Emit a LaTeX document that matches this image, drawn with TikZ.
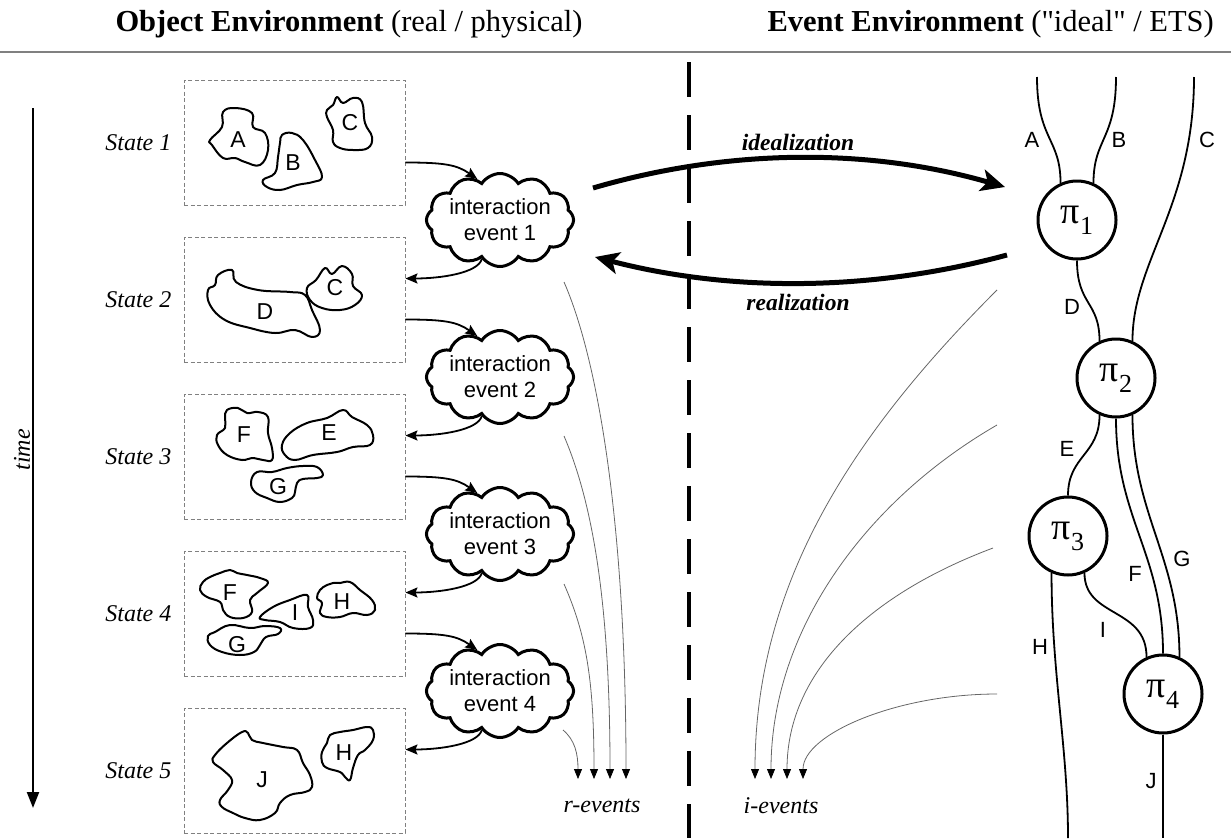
\documentclass[tikz,border=0pt]{standalone}
\usepackage{fontspec}
\setmainfont{Liberation Serif}
\newfontfamily\arialfont{Liberation Sans}
\usetikzlibrary{shapes.symbols,arrows.meta}

% pi with a lowered index, as used inside the interaction circles
\newcommand\pisym[1]{{\fontsize{38}{38}\selectfont π}\raisebox{-11pt}{\fontsize{26}{26}\selectfont #1}}

\tikzset{
  statebox/.style={draw=black!50, dash pattern=on 4pt off 2.5pt, line width=0.9pt,
    minimum width=221pt, minimum height=125pt, inner sep=0pt},
  statelabel/.style={anchor=east, font=\fontsize{24}{24}\selectfont\itshape, inner sep=0pt},
  blob/.style={line width=2pt, line join=round},
  bloblabel/.style={font=\arialfont\fontsize{23}{23}\selectfont, inner sep=0pt},
  evcloud/.style={cloud, draw, line width=3pt, cloud puffs=12, cloud puff arc=115,
    cloud ignores aspect, minimum width=120pt, minimum height=93pt, inner sep=0pt,
    align=center, font=\arialfont\fontsize{22}{26}\selectfont},
  flow/.style={line width=1.8pt, -{Stealth[length=12pt,width=10pt,inset=2pt]}},
  eventline/.style={draw=black!60, line width=0.8pt, -{Triangle[length=10pt,width=8pt,black]}},
  bigarrow/.style={line width=5pt, -{Stealth[length=24pt,width=22pt,inset=6pt]}},
  pinode/.style={circle, draw, line width=3pt, minimum size=78pt, inner sep=0pt},
  strand/.style={line width=1.8pt},
  strandlabel/.style={font=\arialfont\fontsize{22}{22}\selectfont, inner sep=0pt},
  italabel/.style={font=\fontsize{24}{24}\selectfont\itshape, inner sep=0pt},
  bolditalabel/.style={font=\fontsize{23.5}{23.5}\selectfont\bfseries\itshape, inner sep=0pt},
  heading/.style={font=\fontsize{30.5}{30.5}\selectfont, inner sep=0pt},
}

\begin{document}
\begin{tikzpicture}[x=1pt,y=-1pt]
\useasboundingbox (0,0) rectangle (1231,838);

% ---------- headings ----------
\node[heading, anchor=base] (ttl-obj) at (349,31) {\textbf{Object Environment} (real / physical)};
\node[heading, anchor=base east] (ttl-ev) at (1214,31) {\textbf{Event Environment} (\textquotedbl ideal\textquotedbl\ / ETS)};
\draw[black!50, line width=1.3pt] (0,52) -- (1231,52);

% ---------- time axis ----------
\coordinate (t-top) at (33,108);
\coordinate (t-bot) at (33,808);
\draw[line width=2.2pt, -{Triangle[length=16pt,width=12pt]}] (t-top) -- (t-bot);
\node[italabel, rotate=90] (time) at (22,450) {time};

% ---------- divider ----------
\draw[line width=3.5pt, dash pattern=on 35pt off 18pt] (689,62) -- (689,838);

% ---------- states ----------
\foreach \i/\y in {1/142.5, 2/299.5, 3/456.5, 4/613.5, 5/770.5} {
  \node[statebox] (s\i) at (294.5,\y) {};
  \node[statelabel] (sl\i) at ([xshift=-12pt]s\i.west) {State \i};
}

% State 1
\draw[blob] plot[smooth cycle, tension=0.7] coordinates {(223,112) (235,108) (252,113) (253,127) (265,133) (268,150) (260,165) (245,162) (235,158) (223,158) (212,145) (210,140) (222,127)};
\node[bloblabel] (o1a) at (238,140) {A};
\draw[blob] plot[smooth cycle, tension=0.7] coordinates {(282,135) (292,133) (303,140) (315,160) (322,177) (313,182) (297,185) (280,190) (267,187) (263,180) (275,173) (278,157) (280,143)};
\node[bloblabel] (o1b) at (293,163) {B};
\draw[blob] plot[smooth cycle, tension=0.7] coordinates {(337,97) (343,103) (353,98) (362,102) (365,123) (372,137) (368,148) (353,150) (340,148) (333,142) (333,130) (327,117) (327,110) (333,105)};
\node[bloblabel] (o1c) at (350,123) {C};

% State 2
\draw[blob] plot[smooth cycle, tension=0.7] coordinates {(218,275) (232,270) (236,282) (258,290) (290,292) (305,295) (312,310) (320,330) (312,337) (295,330) (275,333) (250,328) (225,320) (210,305) (208,290) (215,285)};
\node[bloblabel] (o2d) at (265,312) {D};
\draw[blob] plot[smooth cycle, tension=0.7] coordinates {(325,268) (332,274) (342,266) (352,274) (353,286) (362,295) (355,305) (340,310) (322,308) (310,300) (307,288) (316,280)};
\node[bloblabel] (o2c) at (335,288) {C};

% State 3
\draw[blob] plot[smooth cycle, tension=0.7] coordinates {(227,410) (238,408) (247,413) (258,412) (268,417) (268,433) (272,448) (272,460) (263,460) (252,458) (242,460) (227,455) (218,445) (217,435) (225,428) (225,418)};
\node[bloblabel] (o3f) at (244,435) {F};
\draw[blob] plot[smooth cycle, tension=0.7] coordinates {(290,433) (307,423) (327,418) (343,410) (352,417) (367,425) (373,435) (370,445) (353,447) (337,452) (313,455) (295,460) (285,455) (282,445)};
\node[bloblabel] (o3e) at (329,433) {E};
\draw[blob] plot[smooth cycle, tension=0.7] coordinates {(257,472) (272,472) (287,468) (303,466) (317,467) (323,475) (317,478) (303,479) (297,483) (295,492) (292,498) (280,502) (267,498) (255,492) (251,482)};
\node[bloblabel] (o3g) at (278,487) {G};

% State 4
\draw[blob] plot[smooth cycle, tension=0.7] coordinates {(210,577) (220,573) (230,570) (237,573) (247,575) (260,578) (268,583) (257,593) (250,600) (252,612) (243,618) (230,617) (223,610) (220,602) (207,597) (200,590) (203,582)};
\node[bloblabel] (o4f) at (230,593) {F};
\draw[blob] plot[smooth cycle, tension=0.7] coordinates {(260,617) (273,607) (290,600) (307,595) (308,607) (313,620) (310,628) (293,628) (280,622) (265,620)};
\node[bloblabel] (o4i) at (295,613) {I};
\draw[blob] plot[smooth cycle, tension=0.7] coordinates {(327,585) (333,583) (340,583) (350,582) (360,590) (372,600) (375,610) (367,615) (353,613) (340,617) (327,617) (320,613) (322,603) (317,598) (320,590)};
\node[bloblabel] (o4h) at (342,602) {H};
\draw[blob] plot[smooth cycle, tension=0.7] coordinates {(215,632) (230,625) (250,628) (265,626) (280,628) (278,634) (266,637) (260,645) (254,652) (240,655) (222,652) (210,645) (208,636)};
\node[bloblabel] (o4g) at (237,645) {G};

% State 5
\draw[blob] plot[smooth cycle, tension=0.7] coordinates {(215,755) (227,743) (242,732) (248,733) (252,740) (263,743) (283,747) (297,750) (303,763) (310,775) (312,787) (305,792) (290,795) (280,803) (275,813) (260,820) (245,818) (233,813) (222,807) (220,800) (228,790) (232,780) (223,770) (213,762)};
\node[bloblabel] (o5j) at (262,780) {J};
\draw[blob] plot[smooth cycle, tension=0.7] coordinates {(330,735) (340,732) (353,730) (367,727) (373,730) (373,740) (365,750) (358,755) (353,768) (350,780) (345,777) (340,772) (327,768) (322,762) (322,752) (327,743)};
\node[bloblabel] (o5h) at (344,753) {H};

% ---------- interaction events ----------
\foreach \i/\y in {1/220, 2/377, 3/534, 4/691} {
  \node[evcloud] (c\i) at (500,\y) {interaction\\event \i};
}
\foreach \i [evaluate=\i as \j using int(\i+1)] in {1,2,3,4} {
  \draw[flow] ([yshift=-20pt]s\i.east) .. controls +(40,0) and +(-20,-14) .. (c\i.119);
  \draw[flow] (c\i.245) .. controls +(-4,14) and +(35,0) .. ([yshift=21pt]s\j.east);
}

% ---------- r-events ----------
\coordinate (rs1) at (564,282); \coordinate (rs2) at (564,436);
\coordinate (rs3) at (564,584); \coordinate (rs4) at (563,730);
\coordinate (rh1) at (578,779); \coordinate (rh2) at (594,779);
\coordinate (rh3) at (610,779); \coordinate (rh4) at (626,779);
\draw[eventline] (rs1) .. controls +(35,80) and +(0,-250) .. (rh4);
\draw[eventline] (rs2) .. controls +(30,70) and +(0,-170) .. (rh3);
\draw[eventline] (rs3) .. controls +(22,50) and +(0,-100) .. (rh2);
\draw[eventline] (rs4) .. controls +(12,10) and +(0,-25) .. (rh1);
\node[italabel] (revents) at (602,806) {r-events};

% ---------- i-events ----------
\coordinate (is1) at (997,290); \coordinate (is2) at (997,425);
\coordinate (is3) at (993,548); \coordinate (is4) at (997,694);
\coordinate (ih1) at (755,779); \coordinate (ih2) at (771,779);
\coordinate (ih3) at (787,779); \coordinate (ih4) at (803,779);
\draw[eventline] (is1) .. controls +(-140,140) and +(0,-200) .. (ih1);
\draw[eventline] (is2) .. controls +(-130,75) and +(0,-150) .. (ih2);
\draw[eventline] (is3) .. controls +(-120,45) and +(0,-110) .. (ih3);
\draw[eventline] (is4) .. controls +(-100,0) and +(0,-45) .. (ih4);
\node[italabel] (ievents) at (781,806) {i-events};

% ---------- idealization / realization ----------
\coordinate (id-s) at (593,188); \coordinate (id-e) at (1005,187);
\coordinate (re-s) at (1007,255); \coordinate (re-e) at (595,257);
\draw[bigarrow] (id-s) .. controls (730,148) and (870,148) .. (id-e);
\draw[bigarrow] (re-s) .. controls (870,292) and (730,292) .. (re-e);
\node[bolditalabel] (ideal) at (798,142) {idealization};
\node[bolditalabel] (real) at (798,302) {realization};

% ---------- event tree ----------
\node[pinode] (p1) at (1077,220) {\pisym{1}};
\node[pinode] (p2) at (1116,378) {\pisym{2}};
\node[pinode] (p3) at (1068,536) {\pisym{3}};
\node[pinode] (p4) at (1163,694) {\pisym{4}};

\coordinate (topA) at (1037,77);
\coordinate (topB) at (1116,77);
\coordinate (topC) at (1194,77);
\coordinate (botH) at (1068,838);
\coordinate (botJ) at (1163,838);

\draw[strand] (topA) .. controls +(0,63) and +(0,-45) .. (p1.114);
\draw[strand] (topB) .. controls +(0,63) and +(0,-45) .. (p1.66);
\draw[strand] (topC) .. controls +(0,130) and +(0,-80) .. (p2.66);
\draw[strand] (p1.270) .. controls +(0,45) and +(0,-40) .. (p2.114);
\draw[strand] (p2.246) .. controls +(0,40) and +(0,-40) .. (p3.90);
\draw[strand] (p2.270) .. controls +(0,100) and +(0,-100) .. (p4.90);
\draw[strand] (p2.294) .. controls +(0,100) and +(0,-100) .. (p4.66);
\draw[strand] (p3.246) .. controls +(0,100) and +(0,-90) .. (botH);
\draw[strand] (p3.294) .. controls +(0,45) and +(0,-50) .. (p4.114);
\draw[strand] (p4.270) -- (botJ);

\node[strandlabel] (la) at (1032,140) {A};
\node[strandlabel] (lb) at (1119,140) {B};
\node[strandlabel] (lc) at (1207,140) {C};
\node[strandlabel] (ld) at (1072,307) {D};
\node[strandlabel] (le) at (1067,449) {E};
\node[strandlabel] (lf) at (1135,574) {F};
\node[strandlabel] (lg) at (1182,559) {G};
\node[strandlabel] (lh) at (1040,647) {H};
\node[strandlabel] (li) at (1103,630) {I};
\node[strandlabel] (lj) at (1151,781) {J};
\end{tikzpicture}
\end{document}
